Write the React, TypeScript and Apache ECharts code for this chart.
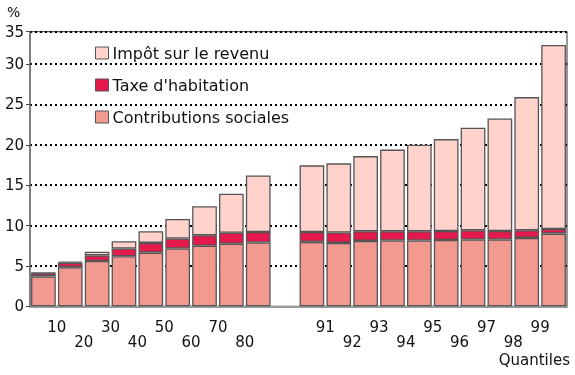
import React, { useEffect, useRef } from "react";
import * as echarts from "echarts";

const categories = [
  "0-10", "10-20", "20-30", "30-40", "40-50", "50-60", "60-70", "70-80", "80-90",
  "",
  "90-91", "91-92", "92-93", "93-94", "94-95", "95-96", "96-97", "97-98", "98-99", "99-100",
];

const contributions: (number | string)[] = [
  3.7, 4.85, 5.6, 6.2, 6.65, 7.15, 7.5, 7.75, 7.9,
  "-",
  7.98, 7.85, 8.1, 8.15, 8.15, 8.2, 8.27, 8.27, 8.47, 9.0,
];
const taxe: (number | string)[] = [
  0.4, 0.55, 0.7, 0.95, 1.2, 1.25, 1.3, 1.35, 1.3,
  "-",
  1.22, 1.28, 1.2, 1.15, 1.15, 1.13, 1.15, 1.06, 0.95, 0.58,
];
const impot: (number | string)[] = [
  0.05, 0.15, 0.45, 0.9, 1.45, 2.4, 3.6, 4.85, 7.0,
  "-",
  8.25, 8.57, 9.3, 10.1, 10.7, 11.37, 12.68, 13.92, 16.48, 22.77,
];

// boundary tick labels (position k = boundary after k-th slot)
const tickLabels: Record<number, string> = {
  1: "10", 2: "20", 3: "30", 4: "40", 5: "50", 6: "60", 7: "70", 8: "80",
  11: "91", 12: "92", 13: "93", 14: "94", 15: "95", 16: "96", 17: "97", 18: "98", 19: "99",
};

const FONT = "DejaVu Sans, Verdana, sans-serif";

export default function App() {
  const ref = useRef<HTMLDivElement>(null);
  useEffect(() => {
    if (!ref.current) return;
    const chart = echarts.init(ref.current, undefined, { renderer: "svg" });
    const border = { borderColor: "#555", borderWidth: 1.3 };
    chart.setOption({
      animation: false,
      textStyle: { fontFamily: FONT },
      grid: {
        left: 30, right: 8, top: 31.7, bottom: 68.7,
        show: true, borderColor: "#333", borderWidth: 1, backgroundColor: "transparent",
      },
      legend: {
        orient: "vertical",
        left: 90,
        top: 40,
        itemWidth: 13,
        itemHeight: 12,
        itemGap: 16,
        icon: "rect",
        data: ["Impôt sur le revenu", "Taxe d'habitation", "Contributions sociales"],
        textStyle: { fontSize: 16, color: "#111", fontFamily: FONT, padding: [0, 0, 0, -1] },
        itemStyle: { borderColor: "#555", borderWidth: 1 },
      },
      xAxis: [
        {
          type: "category",
          data: categories,
          axisLine: { lineStyle: { color: "#999", width: 2 } },
          axisTick: { show: false },
          axisLabel: { show: false },
        },
        {
          type: "value",
          position: "bottom",
          min: 0,
          max: 20,
          interval: 1,
          axisLine: { show: false },
          axisTick: { show: false },
          splitLine: { show: false },
          axisLabel: {
            margin: 13.5,
            fontSize: 15,
            lineHeight: 15,
            color: "#111",
            fontFamily: FONT,
            showMinLabel: true,
            showMaxLabel: true,
            formatter: (v: number) => {
              const k = Math.round(v);
              const t = tickLabels[k];
              if (!t) return "";
              return k % 2 === 0 ? "\n" + t : t;
            },
          },
        },
      ],
      yAxis: {
        type: "value",
        min: 0,
        max: 34,
        interval: 5,
        axisLine: { show: true, lineStyle: { color: "#777", width: 1.5 } },
        axisTick: { show: true, length: 4, lineStyle: { color: "#444" } },
        axisLabel: {
          margin: 6,
          fontSize: 15,
          color: "#111",
          fontFamily: FONT,
          showMaxLabel: true,
          formatter: (v: number) => (v > 33 ? "35" : String(v)),
        },
        splitLine: {
          show: true,
          lineStyle: { color: "#000", width: 2, type: [2, 3] },
        },
      },
      series: [
        {
          name: "Contributions sociales",
          type: "bar",
          stack: "t",
          data: contributions,
          barCategoryGap: "8%",
          itemStyle: { color: "#F29A90", ...border },
        },
        {
          name: "Taxe d'habitation",
          type: "bar",
          stack: "t",
          data: taxe,
          barCategoryGap: "8%",
          itemStyle: { color: "#E5194B", ...border },
        },
        {
          name: "Impôt sur le revenu",
          type: "bar",
          stack: "t",
          data: impot,
          barCategoryGap: "8%",
          itemStyle: { color: "#FFD3CB", ...border },
        },
      ],
      graphic: [
        {
          type: "text",
          left: 7,
          top: 5,
          style: { text: "%", fontSize: 14, fill: "#111", fontFamily: FONT },
        },
        {
          type: "text",
          right: 5,
          top: 352,
          style: { text: "Quantiles", fontSize: 15, fill: "#111", fontFamily: FONT },
        },
      ],
    });
    return () => chart.dispose();
  }, []);
  return (
    <div
      ref={ref}
      style={{ position: "fixed", left: 0, top: 0, width: 575, height: 375 }}
    />
  );
}
